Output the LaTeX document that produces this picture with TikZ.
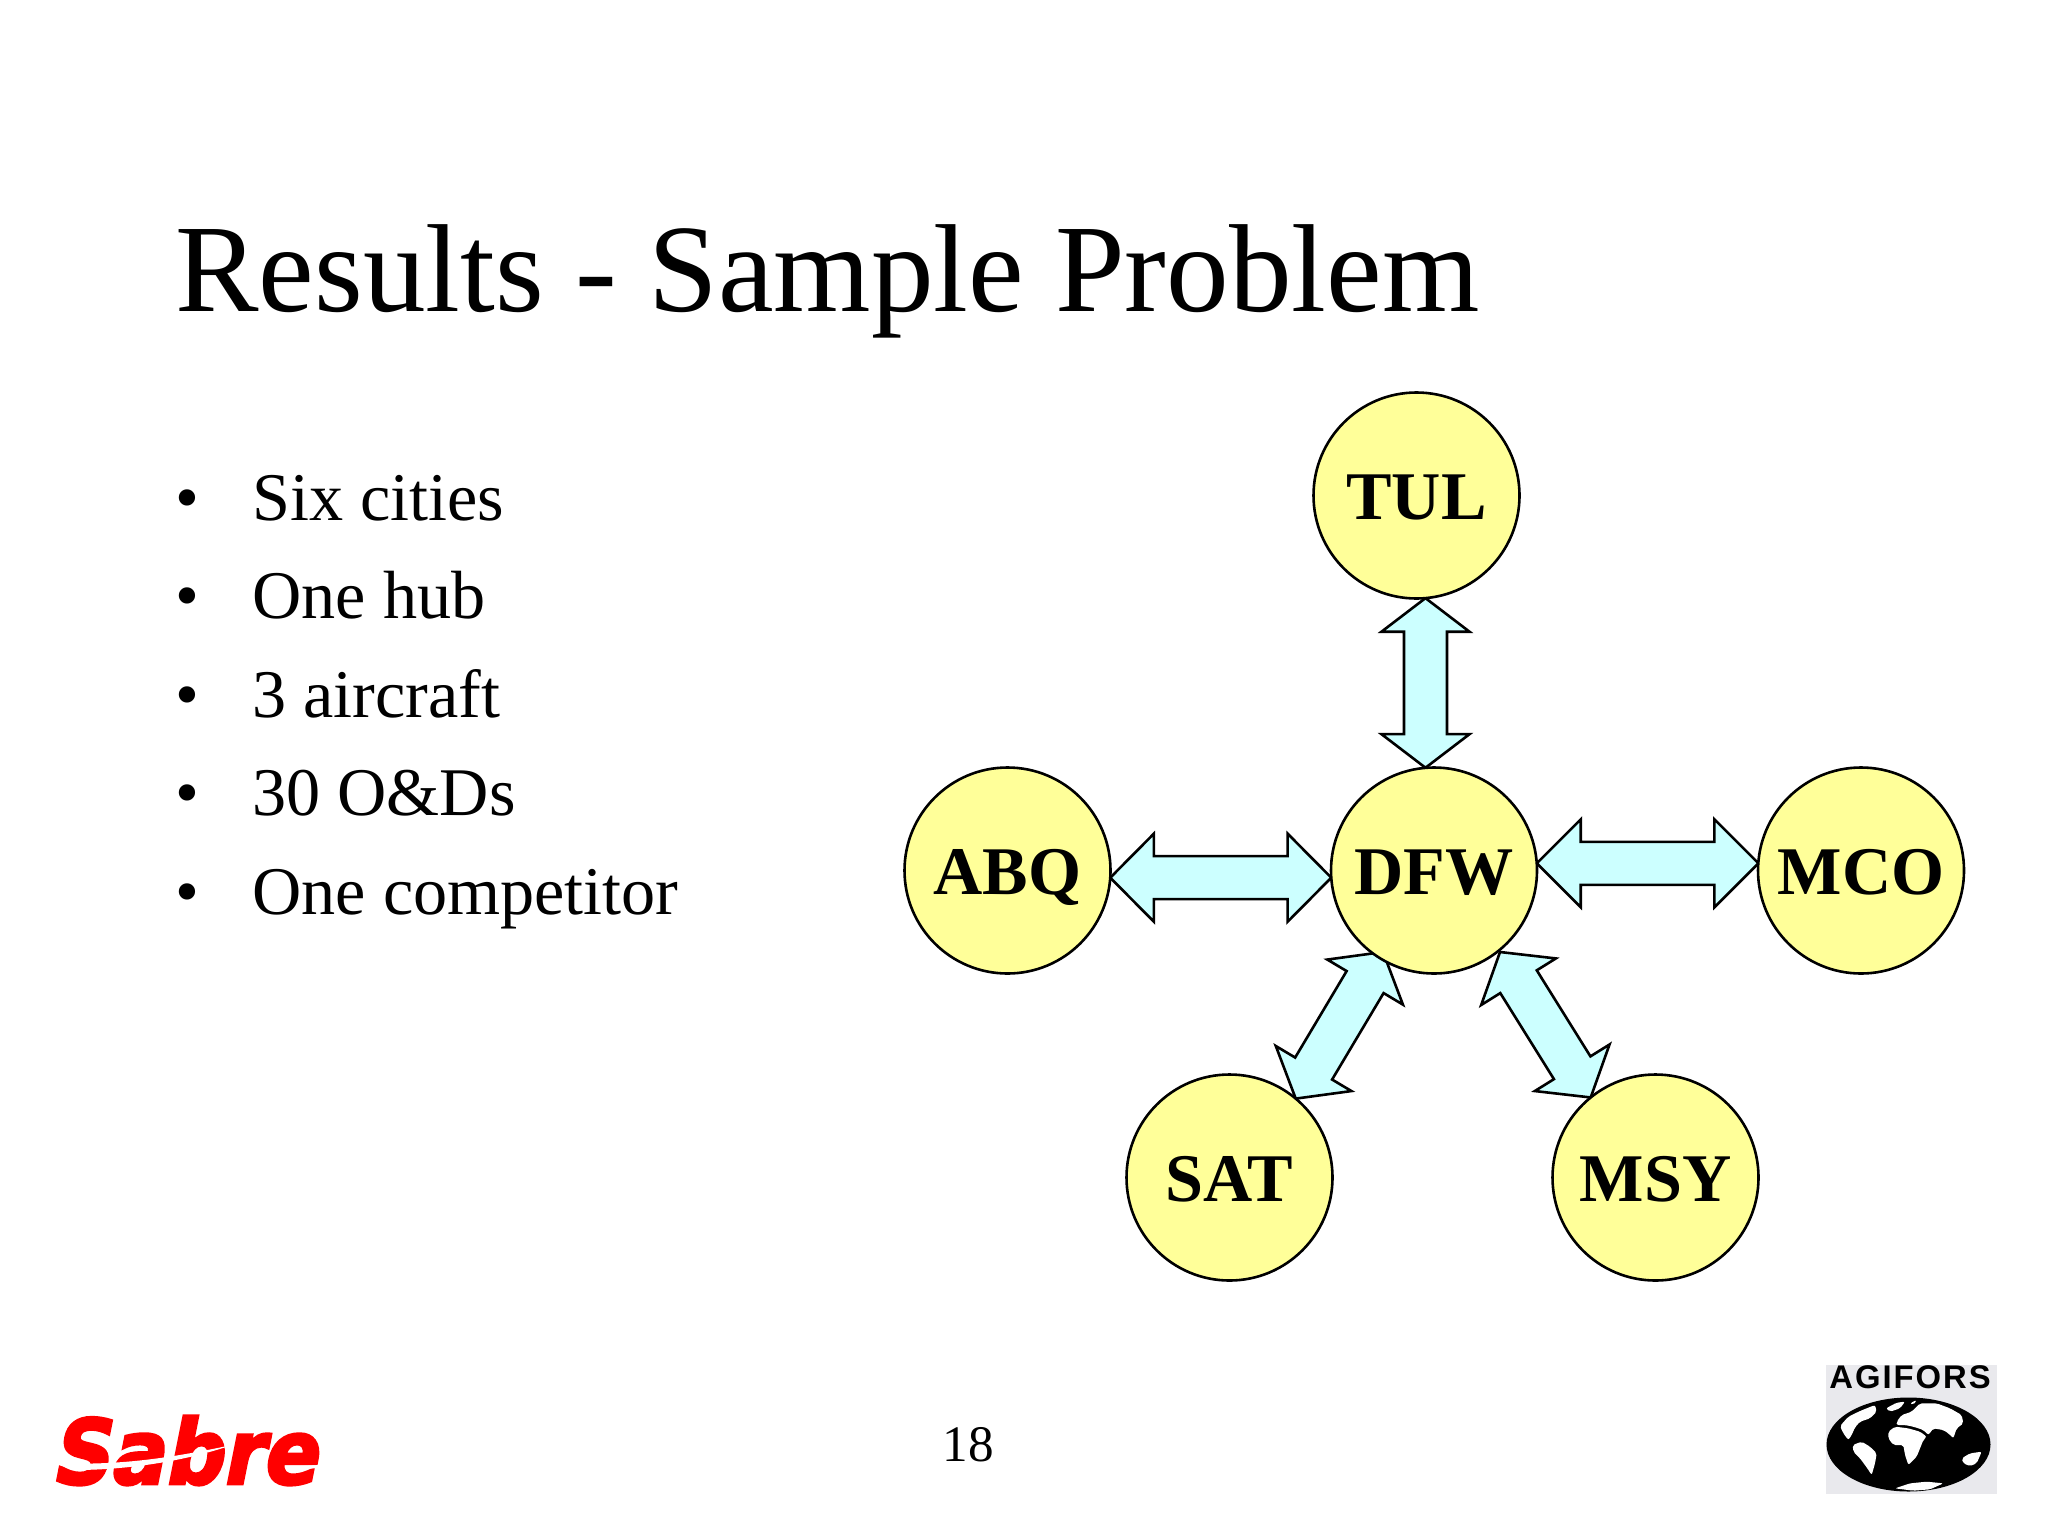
\documentclass[tikz,border=0pt]{standalone}
\usepackage{fontspec}
\setmainfont{Liberation Serif}
\newfontfamily\agiforsfont{Liberation Sans}[LetterSpace=6]
\newfontfamily\sabrefont{DejaVu Sans}[FakeSlant=0.2,FakeStretch=0.90,FakeBold=3]
\usetikzlibrary{calc}
\pgfdeclarelayer{under}
\pgfsetlayers{under,main}
\definecolor{cityfill}{HTML}{FFFF99}
\definecolor{arrowfill}{HTML}{CCFFFF}
\definecolor{sabrered}{HTML}{FF0000}
\definecolor{logogray}{HTML}{E9E9ED}
\tikzset{
  citynode/.style={circle,draw=black,line width=1.3pt,fill=cityfill,minimum size=103pt,inner sep=0pt,outer sep=0pt,text depth=0pt,text height=23.5pt,font=\fontsize{34.1}{40}\selectfont\bfseries,text=black},
  blockarrow/.style={draw=black,line width=1.3pt,fill=arrowfill,line join=miter},
  titletext/.style={anchor=base west,inner sep=0pt,font=\fontsize{62.6}{70}\selectfont,text=black},
  itemtext/.style={anchor=base west,inner sep=0pt,font=\fontsize{34.1}{40}\selectfont,text=black},
  continent/.style={fill=white,draw=none,rounded corners=1pt}
}
\newcommand{\blockarrowpath}[3]{%
  \draw[blockarrow]
    (#1)
    -- ($(#1)!#3!(#2)!22pt!90:(#2)$)
    -- ($(#1)!#3!(#2)!10.75pt!90:(#2)$)
    -- ($(#2)!#3!(#1)!-10.75pt!90:(#1)$)
    -- ($(#2)!#3!(#1)!-22pt!90:(#1)$)
    -- (#2)
    -- ($(#2)!#3!(#1)!22pt!90:(#1)$)
    -- ($(#2)!#3!(#1)!10.75pt!90:(#1)$)
    -- ($(#1)!#3!(#2)!-10.75pt!90:(#2)$)
    -- ($(#1)!#3!(#2)!-22pt!90:(#2)$)
    -- cycle;}
\begin{document}
\begin{tikzpicture}[x=0.5pt,y=-0.5pt]
\useasboundingbox (0,0) rectangle (2048,1536);
\begin{pgfonlayer}{under}
\fill[white] (0,0) rectangle (2048,1536);
\end{pgfonlayer}

\node[titletext] (title) at (175,311) {Results - Sample Problem};

\node[itemtext] (b1) at (175,520) {•};
\node[itemtext] (t1) at (252,520) {Six cities};
\node[itemtext] (b2) at (175,618) {•};
\node[itemtext] (t2) at (252,618) {One hub};
\node[itemtext] (b3) at (175,717) {•};
\node[itemtext] (t3) at (252,717) {3 aircraft};
\node[itemtext] (b4) at (175,815) {•};
\node[itemtext] (t4) at (252,815) {30 O\&Ds};
\node[itemtext] (b5) at (175,914) {•};
\node[itemtext] (t5) at (252,914) {One competitor};

\node[citynode] (tul) at (1416.5,495.5) {TUL};
\node[citynode] (abq) at (1007.5,870.5) {ABQ};
\node[citynode] (dfw) at (1434,870.5) {DFW};
\node[citynode] (mco) at (1861,870.5) {MCO};
\node[citynode] (sat) at (1229.5,1177.5) {SAT};
\node[citynode] (msy) at (1655.5,1177.5) {MSY};

\coordinate (dfwsw) at (1383,952);
\coordinate (dfwse) at (1500,952);

\begin{pgfonlayer}{under}
\blockarrowpath{tul.-85}{tul.-85 |- dfw.94.8}{16.8pt}
\blockarrowpath{abq.-4.5}{dfw.184.5 |- abq.-4.5}{21.8pt}
\blockarrowpath{dfw.4.5}{mco.175.5 |- dfw.4.5}{22pt}
\blockarrowpath{sat.50}{dfwsw}{17.5pt}
\blockarrowpath{msy.129.5}{dfwse}{17.5pt}
\end{pgfonlayer}

\node[anchor=base,inner sep=0pt,font=\fontsize{25.6}{30}\selectfont,text=black] (page) at (968,1461) {18};

% Sabre logo
\node[anchor=base west,inner sep=0pt,font=\fontsize{45}{50}\selectfont\sabrefont\bfseries,text=sabrered] (sabre) at (50,1484) {Sabre};
\fill[white] (52,1463) .. controls (120,1466) and (170,1458) .. (232,1445) .. controls (180,1463) and (120,1470) .. (75,1470) -- cycle;
\fill[white] (288,1467) -- (320,1465) -- (320,1468) -- (288,1470) -- cycle;

% AGIFORS logo
\fill[logogray] (1826,1365) rectangle (1997,1494);
\node[anchor=base,inner sep=0pt,font=\fontsize{16.4}{20}\selectfont\agiforsfont\bfseries,text=black] (agifors) at (1910,1388) {AGIFORS};
\fill[black] (1908.5,1444.5) ellipse [x radius=82,y radius=47];
\begin{scope}[shift={(1780,1340)},scale=1/3]
\fill[continent] (180,258) -- (205,230) -- (240,213) -- (285,195) -- (290,215) -- (270,235) -- (240,245) -- (225,262) -- (215,285) -- (205,300) -- (190,280) -- cycle;
\fill[continent] (318,205) -- (350,188) -- (375,185) -- (360,205) -- (330,215) -- cycle;
\fill[continent] (390,190) -- (410,180) -- (400,195) -- cycle;
\fill[continent] (218,315) -- (245,305) -- (270,320) -- (290,340) -- (285,370) -- (275,405) -- (262,385) -- (240,355) -- (220,335) -- cycle;
\fill[continent] (325,275) -- (345,260) -- (385,265) -- (420,275) -- (440,290) -- (430,300) -- (420,325) -- (410,350) -- (385,375) -- (375,345) -- (370,315) -- (340,315) -- (325,295) -- cycle;
\fill[continent] (350,245) -- (365,225) -- (395,215) -- (420,190) -- (470,190) -- (510,205) -- (545,225) -- (550,250) -- (530,265) -- (520,295) -- (505,280) -- (490,270) -- (460,265) -- (445,285) -- (430,270) -- (400,260) -- (375,255) -- (350,255) -- cycle;
\fill[continent] (545,355) -- (570,340) -- (605,335) -- (590,370) -- (570,378) -- (550,370) -- cycle;
\fill[continent] (345,445) -- (390,430) -- (440,425) -- (490,430) -- (450,448) -- (400,452) -- cycle;
\end{scope}
\end{tikzpicture}
\end{document}
